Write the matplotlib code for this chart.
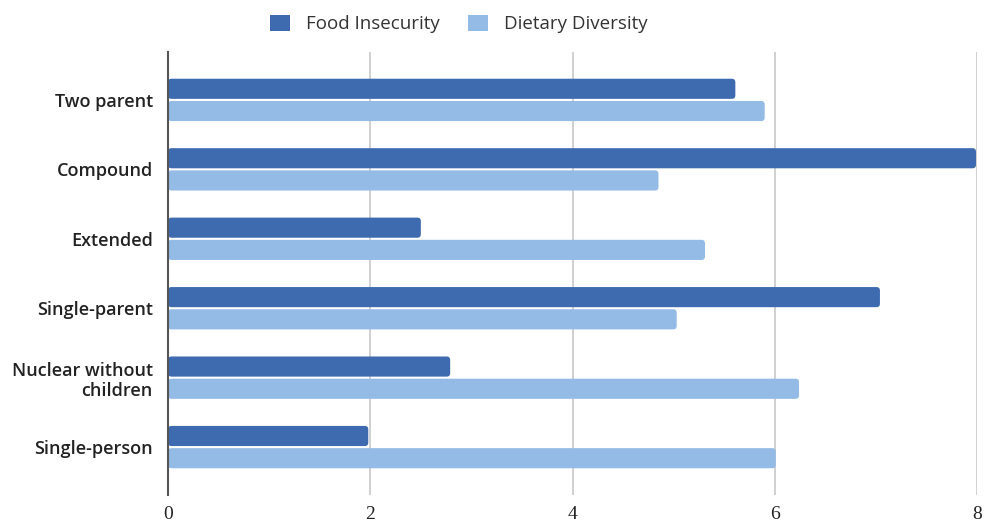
import matplotlib.pyplot as plt
import numpy as np
from matplotlib.patches import FancyBboxPatch, Patch

categories = ['Two parent', 'Compound', 'Extended', 'Single-parent',
              'Nuclear without\nchildren', 'Single-person']
food_insecurity = [5.61, 7.99, 2.50, 7.04, 2.79, 1.98]
dietary_diversity = [5.90, 4.85, 5.31, 5.03, 6.24, 6.01]
xticks = [0, 2, 4, 6, 8]

dark = '#3e6bb0'
light = '#93bbe5'

fig = plt.figure(figsize=(9.85, 5.22), dpi=100)
ax = fig.add_axes([0.1706, 0.0517, 0.8213, 0.8487])

y = np.arange(len(categories))
h = 0.29
b1 = ax.barh(y - h / 2 - 0.015, food_insecurity, height=h, color=dark, zorder=3)
b2 = ax.barh(y + h / 2 + 0.015, dietary_diversity, height=h, color=light, zorder=3)

# rounded bar ends
for bars in (b1, b2):
    for r in bars:
        r.set_visible(False)
        p = FancyBboxPatch((r.get_x(), r.get_y()), r.get_width(), r.get_height(),
                           boxstyle='round,pad=0,rounding_size=0.035', mutation_aspect=1.45,
                           fc=r.get_facecolor(), ec='none', zorder=3)
        ax.add_patch(p)

ax.set_xlim(0, 8)
ax.set_ylim(len(categories) - 0.31, -0.69)
ax.set_yticks(y)
ax.set_yticklabels(categories, fontsize=13, family='Open Sans', weight='semibold', color='#222222')
ax.set_xticks(xticks)
ax.set_xticklabels([str(t) for t in xticks], fontsize=14, family='Liberation Serif', color='#222222')

ax.grid(axis='x', color='#c8c8c8', lw=1.2, zorder=0)
for s in ['top', 'right', 'bottom']:
    ax.spines[s].set_visible(False)
ax.spines['left'].set_color('#555555')
ax.spines['left'].set_linewidth(1.5)
ax.spines['left'].set_zorder(4)
ax.tick_params(axis='y', length=0, pad=11)
ax.tick_params(axis='x', length=0, pad=8)

handles = [Patch(fc=dark, ec='none', label='Food Insecurity'),
           Patch(fc=light, ec='none', label='Dietary Diversity')]
fig.legend(handles=handles, loc='center left', bbox_to_anchor=(270 / 985, 1 - 24 / 522),
           bbox_transform=fig.transFigure, ncol=2, frameon=False, borderpad=0, borderaxespad=0,
           prop={'family': 'Open Sans', 'size': 13.5, 'weight': 'medium'}, handlelength=1.07,
           handleheight=0.92, columnspacing=1.5, handletextpad=0.85, labelcolor='#333333')

fig.savefig('out.png', dpi=100)
